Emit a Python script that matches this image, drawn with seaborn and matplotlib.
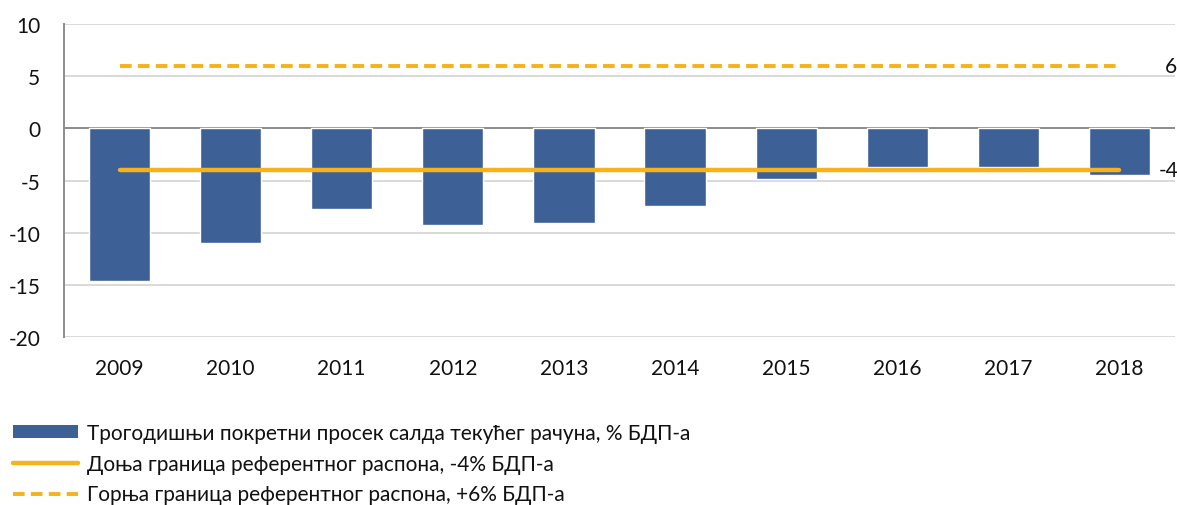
import matplotlib
matplotlib.use("Agg")
import matplotlib.pyplot as plt
from matplotlib.lines import Line2D
from matplotlib.patches import Patch
import seaborn as sns
import pandas as pd

# Three-year moving average of the current account balance, % of GDP
years = ["2009", "2010", "2011", "2012", "2013", "2014", "2015", "2016", "2017", "2018"]
balance = [-14.6, -11.0, -7.7, -9.3, -9.1, -7.4, -4.9, -3.7, -3.7, -4.5]
lower_bound = [-4] * len(years)
upper_bound = [6] * len(years)
y_ticks = [10, 5, 0, -5, -10, -15, -20]

legend_labels = [
    "Трогодишњи покретни просек салда текућег рачуна, % БДП-а",
    "Доња граница референтног распона, -4% БДП-а",
    "Горња граница референтног распона, +6% БДП-а",
]

bar_color = "#3D6197"
line_color = "#F4B21B"
grid_color = "#D9D9D9"
axis_color = "#8C8C8C"
text_color = "#111111"
fs = 15

sns.set_theme(style="white")
plt.rcParams["font.family"] = ["Lato", "DejaVu Sans"]
plt.rcParams["axes.unicode_minus"] = False

df = pd.DataFrame({"year": years, "balance": balance})

fig = plt.figure(figsize=(11.77, 5.06), dpi=100)
ax = fig.add_axes([64 / 1177, 1 - 338 / 506, (1175 - 64) / 1177, (338 - 25) / 506])

for t in y_ticks:
    ax.axhline(t, color=grid_color, lw=1.4, zorder=0)
ax.axhline(0, color=axis_color, lw=1.4, zorder=1)

sns.barplot(data=df, x="year", y="balance", color=bar_color, width=0.55,
            saturation=1, ax=ax, zorder=2)

xpos = list(range(len(years)))
ax.plot(xpos, lower_bound, color=line_color, lw=3.2, solid_capstyle="round", zorder=3)
ax.plot(xpos, upper_bound, color=line_color, lw=2.8, dashes=(3, 1.6), zorder=3)

ax.text(len(years) - 1 + 0.46, upper_bound[-1], f"{upper_bound[-1]}", ha="center",
        va="center", fontsize=fs, color=text_color)
ax.text(len(years) - 1 + 0.44, lower_bound[-1], f"{lower_bound[-1]}", ha="center",
        va="center", fontsize=fs, color=text_color)

ax.set_ylim(-20, 10)
ax.set_xlim(-0.5, len(years) - 0.5)
ax.set_yticks(y_ticks)
ax.set_xlabel("")
ax.set_ylabel("")
for side in ["top", "right", "bottom"]:
    ax.spines[side].set_visible(False)
ax.spines["left"].set_color(axis_color)
ax.spines["left"].set_linewidth(1.4)
ax.tick_params(axis="y", length=0, pad=17, labelsize=fs, labelcolor=text_color)
ax.tick_params(axis="x", length=0, pad=15, labelsize=fs, labelcolor=text_color)

handles = [
    Patch(facecolor=bar_color, edgecolor="none"),
    Line2D([], [], color=line_color, lw=3.2),
    Line2D([], [], color=line_color, lw=2.8, dashes=(3, 1.6)),
]
fig.legend(handles, legend_labels, loc="upper left", bbox_to_anchor=(0.004, 0.179),
           frameon=False, fontsize=fs, handlelength=3.1, handleheight=0.55,
           handletextpad=0.45, labelspacing=0.52, borderaxespad=0,
           labelcolor=text_color)

fig.savefig("out.png", dpi=100)
